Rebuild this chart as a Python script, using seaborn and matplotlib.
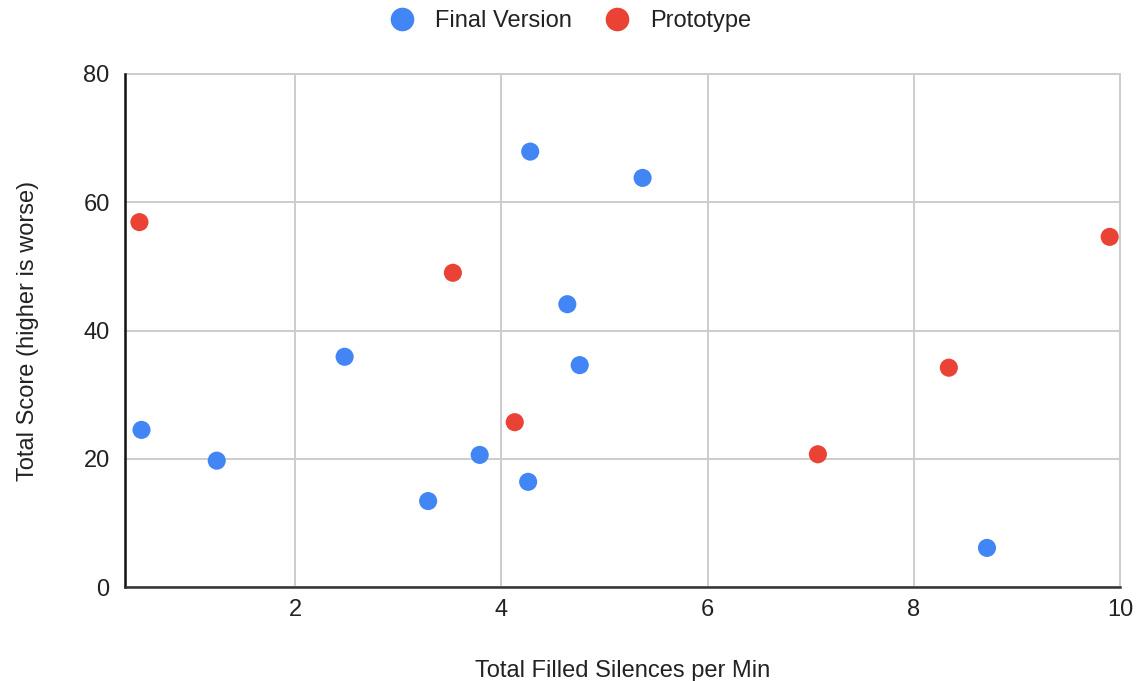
import matplotlib
matplotlib.use("Agg")
import matplotlib.pyplot as plt
import seaborn as sns
import pandas as pd

final_x = [0.51, 1.24, 2.48, 3.29, 3.79, 4.26, 4.28, 4.64, 4.76, 5.37, 8.71]
final_y = [24.5, 19.7, 35.9, 13.4, 20.6, 16.4, 67.9, 44.1, 34.6, 63.8, 6.1]
proto_x = [0.49, 3.53, 4.13, 7.07, 8.34, 9.90]
proto_y = [56.9, 49.0, 25.7, 20.7, 34.2, 54.6]
series = ["Final Version", "Prototype"]
colors = ["#4285F4", "#EA4335"]
x_ticks = [2, 4, 6, 8, 10]
y_ticks = [0, 20, 40, 60, 80]

df = pd.DataFrame({
    "x": final_x + proto_x,
    "y": final_y + proto_y,
    "series": [series[0]] * len(final_x) + [series[1]] * len(proto_x),
})

sns.set_theme(style="white")
plt.rcParams["font.family"] = ["Liberation Sans", "DejaVu Sans"]

fig = plt.figure(figsize=(11.36, 6.81), dpi=100)
ax = fig.add_axes([125 / 1136, 1 - 587 / 681, (1120 - 125) / 1136, (587 - 74) / 681])

sns.scatterplot(data=df, x="x", y="y", hue="series", hue_order=series,
                palette=colors, s=170, edgecolor="none", ax=ax, legend=False,
                zorder=3, clip_on=False)

ax.set_xlim(0.35, 10)
ax.set_ylim(0, 80)
ax.set_xticks(x_ticks)
ax.set_yticks(y_ticks)
ax.tick_params(axis="both", labelsize=17, colors="#222222", length=0)
ax.tick_params(axis="x", pad=9)
ax.tick_params(axis="y", pad=11)
ax.grid(True, color="#cccccc", linewidth=1.4)
for gl in ax.get_xgridlines() + ax.get_ygridlines():
    gl.set_clip_on(False)
ax.set_axisbelow(True)

for side in ["top", "right"]:
    ax.spines[side].set_visible(False)
ax.spines["left"].set_color("#111111")
ax.spines["left"].set_linewidth(1.8)
ax.spines["bottom"].set_color("#333333")
ax.spines["bottom"].set_linewidth(1.8)
ax.spines["left"].set_zorder(4)
ax.spines["bottom"].set_zorder(4)

ax.set_xlabel("Total Filled Silences per Min", fontsize=17, color="#222222", labelpad=28)
ax.set_ylabel("Total Score (higher is worse)", fontsize=17, color="#222222", labelpad=32)

handles = [plt.Line2D([], [], marker="o", linestyle="", markersize=17,
                      markerfacecolor=c, markeredgecolor="none") for c in colors]
fig.legend(handles, series, loc="center", bbox_to_anchor=(565 / 1136, 1 - 21 / 681),
           ncol=2, frameon=False, fontsize=17, handletextpad=0.4, columnspacing=0.9,
           labelcolor="#222222")

fig.savefig("out.png", dpi=100)
